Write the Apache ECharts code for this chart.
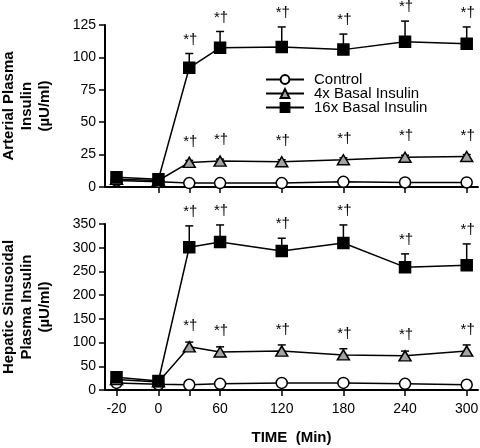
<!DOCTYPE html>
<html><head><meta charset="utf-8">
<script src="https://cdn.jsdelivr.net/npm/echarts@6/dist/echarts.min.js"></script>
<style>html,body{margin:0;padding:0;background:#fff}#c{width:480px;height:448px}</style>
</head><body><div id="c"></div>
<script>
// ---- data ----
const times = [-20, 0, 30, 60, 120, 180, 240, 300];
const xTickTimesTop = [0, 30, 60, 120, 180, 240, 300];
const xTickTimesBottom = [-20, 0, 30, 60, 120, 180, 240, 300];
const xLabelTimes = [-20, 0, 60, 120, 180, 240, 300];
const seriesNames = ['Control', '4x Basal Insulin', '16x Basal Insulin'];
const sigMarks = ['', '', '*†', '*†', '*†', '*†', '*†', '*†'];

// Arterial plasma insulin (µU/ml)
const artControl = [5, 4, 3, 3, 3, 4, 3.5, 3.5];
const art4x = [6, 5, 19, 20, 19.5, 21, 23, 23.5];
const art4xSE = [0.5, 0.5, 1.5, 1.5, 1.5, 1.5, 1.5, 1.5];
const art16x = [7.5, 6, 92, 107.5, 108, 106, 112, 110.5];
const art16xSE = [1.5, 1, 11, 12.5, 15.5, 12, 16, 13];

// Hepatic sinusoidal plasma insulin (µU/ml)
const hepControl = [15, 12, 11, 13, 15, 15, 13, 11];
const hep4x = [22, 17, 91, 80, 82, 74, 72, 82];
const hep4xSE = [2, 2, 10, 11, 13, 13, 10, 13];
const hep16x = [27, 19, 301, 312, 293, 310, 259, 263];
const hep16xSE = [3, 2, 45, 36, 27, 38, 28, 45];

// ---- scale: the pre-infusion segment (-20..0) is drawn stretched; axis origin offset ----
const NEG_STRETCH = 2.04;
const X_OFFSET = 52;           // axis starts 52 "minutes" left of t=0
const X_MAX = 311 + X_OFFSET;
function tpos(t) { return (t < 0 ? t * NEG_STRETCH : t) + X_OFFSET; }
function tlabel(p) { const q = p - X_OFFSET; return q < 0 ? String(Math.round(q / NEG_STRETCH)) : String(Math.round(q)); }

const FONT = '"Liberation Sans", Arial, sans-serif';

function lineSeries(idx, name, vals) {
  const base = {
    type: 'line', name, xAxisIndex: idx, yAxisIndex: idx, z: 3,
    data: times.map((t, i) => [tpos(t), vals[i]]),
    lineStyle: { color: '#000', width: 1.5 },
    itemStyle: { borderColor: '#000', borderWidth: 1.5 },
    emphasis: { disabled: true }, silent: true
  };
  if (name === seriesNames[0]) { base.symbol = 'circle'; base.symbolSize = 11; base.itemStyle.color = '#fff'; }
  else if (name === seriesNames[1]) { base.symbol = 'triangle'; base.symbolSize = [12, 10]; base.itemStyle.color = '#a3a3a3'; }
  else { base.symbol = 'rect'; base.symbolSize = 11; base.itemStyle.color = '#000'; }
  return base;
}

function errSeries(idx, vals, se, marks) {
  return {
    type: 'custom', xAxisIndex: idx, yAxisIndex: idx, z: 2, silent: true,
    data: times.map((t, i) => [tpos(t), vals[i], se[i]]),
    encode: { x: 0, y: 1 },
    renderItem(params, api) {
      const x = api.value(0), v = api.value(1), e = api.value(2);
      const pC = api.coord([x, v]);
      const pT = api.coord([x, v + e]);
      const ch = [];
      if (e > 0) {
        ch.push({ type: 'line', shape: { x1: pC[0], y1: pC[1], x2: pT[0], y2: pT[1] }, style: { stroke: '#000', lineWidth: 1.5 } });
        ch.push({ type: 'line', shape: { x1: pT[0] - 4, y1: pT[1], x2: pT[0] + 4, y2: pT[1] }, style: { stroke: '#000', lineWidth: 1.5 } });
      }
      const m = marks[params.dataIndex];
      if (m) {
        ch.push({ type: 'text', x: pT[0] + 1, y: Math.min(pT[1], pC[1] - 7) - 14,
          style: { text: m, font: '15px ' + FONT, fill: '#000', align: 'center', verticalAlign: 'middle' } });
      }
      return { type: 'group', children: ch };
    }
  };
}

function xAxisCfg(idx, tickTimes, showLabels) {
  return {
    type: 'value', gridIndex: idx, min: 0, max: X_MAX,
    axisLine: { onZero: false, lineStyle: { color: '#000', width: 2 } },
    axisTick: { show: true, length: 6, lineStyle: { color: '#000', width: 1.5 }, customValues: tickTimes.map(tpos) },
    axisLabel: { show: showLabels, customValues: xLabelTimes.map(tpos), formatter: tlabel, fontSize: 14, color: '#000', fontFamily: FONT, margin: 12 },
    splitLine: { show: false },
    name: showLabels ? 'TIME  (Min)' : '', nameLocation: 'middle', nameGap: 40, nameMoveOverlap: false,
    nameTextStyle: { fontSize: 15, fontWeight: 'bold', color: '#000', fontFamily: FONT }
  };
}

function yAxisCfg(idx, max, interval, name) {
  return {
    type: 'value', gridIndex: idx, min: 0, max, interval,
    axisLine: { show: true, onZero: false, lineStyle: { color: '#000', width: 2 } },
    axisTick: { show: true, length: 6, lineStyle: { color: '#000', width: 1.5 } },
    axisLabel: { fontSize: 14, color: '#000', fontFamily: FONT, margin: 9 },
    splitLine: { show: false },
    name, nameLocation: 'middle', nameRotate: 90, nameGap: 51, nameMoveOverlap: false,
    nameTextStyle: { fontSize: 15, fontWeight: 'bold', color: '#000', fontFamily: FONT, lineHeight: 18, align: 'center' }
  };
}

const chart = echarts.init(document.getElementById('c'), null, { renderer: 'canvas' });
chart.setOption({
  animation: false,
  backgroundColor: '#fff',
  grid: [
    { left: 105, right: 2, top: 25, height: 162, containLabel: false, outerBoundsMode: 'none' },
    { left: 105, right: 2, top: 224, height: 166, containLabel: false, outerBoundsMode: 'none' }
  ],
  xAxis: [xAxisCfg(0, xTickTimesTop, false), xAxisCfg(1, xTickTimesBottom, true)],
  yAxis: [
    yAxisCfg(0, 125, 25, 'Arterial Plasma\nInsulin\n(µU/ml)'),
    yAxisCfg(1, 350, 50, 'Hepatic Sinusoidal\nPlasma Insulin\n(µU/ml)')
  ],
  legend: {
    data: seriesNames, orient: 'vertical', left: 260, top: 67,
    itemWidth: 38, itemHeight: 11, itemGap: -1,
    textStyle: { fontSize: 15, color: '#000', fontFamily: FONT, padding: [0, 0, 0, 5] }, selectedMode: false
  },
  series: [
    errSeries(0, art16x, art16xSE, sigMarks),
    errSeries(0, art4x, art4xSE, sigMarks),
    lineSeries(0, seriesNames[0], artControl),
    lineSeries(0, seriesNames[1], art4x),
    lineSeries(0, seriesNames[2], art16x),
    errSeries(1, hep16x, hep16xSE, sigMarks),
    errSeries(1, hep4x, hep4xSE, sigMarks),
    lineSeries(1, seriesNames[0], hepControl),
    lineSeries(1, seriesNames[1], hep4x),
    lineSeries(1, seriesNames[2], hep16x)
  ]
});
</script></body></html>
